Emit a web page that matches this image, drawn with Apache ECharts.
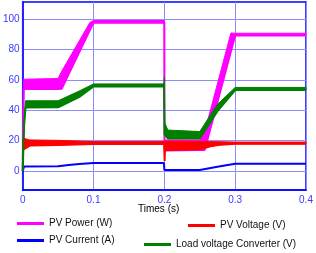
<!DOCTYPE html>
<html><head><meta charset="utf-8">
<script src="https://cdn.jsdelivr.net/npm/echarts@6/dist/echarts.min.js"></script>
<style>html,body{margin:0;padding:0;background:#fff}#c{width:316px;height:253px}</style>
</head><body><div id="c"></div>
<script>
const xTicks = [0, 0.1, 0.2, 0.3, 0.4];
const yTicks = [0, 20, 40, 60, 80, 100];

const powerT    = [0, 0.0015, 0.05, 0.055, 0.095, 0.1, 0.2, 0.2002, 0.25, 0.257, 0.294, 0.3, 0.4];
const powerLow  = [0, 54,     54,   54.2,  93,    97.8, 97.8, 13.5, 13.8, 13.8, 79,    89.4, 89.4];
const powerHigh = [0, 60.5,   61,   65.7,  98,    99.2, 99.2, 20.5, 20.5, 26,   91,    90.8, 90.8];

const voltT    = [0, 0.002, 0.01, 0.05, 0.1, 0.2, 0.2003, 0.2008, 0.25, 0.265, 0.28, 0.3, 0.4];
const voltLow  = [14, 14.5, 16.8, 17.2, 17.8, 17.8, 6.6, 13.8, 14.3, 16.3, 17.4, 17.9, 17.9];
const voltHigh = [21.5, 21.5, 20.5, 20.2, 19.4, 19.4, 19.5, 19.6, 19.5, 19.4, 19.3, 19.1, 19.1];

const currT   = [0, 0.002, 0.05, 0.065, 0.08, 0.1, 0.1995, 0.2, 0.25, 0.275, 0.3, 0.4];
const currVal = [0, 3,     3.1,  3.9,   4.6,  5.3, 5.3,    0.7, 0.7,  2.8,   4.8, 4.8];

const loadT    = [0, 0.002, 0.004, 0.05, 0.08, 0.1, 0.1995, 0.2, 0.2003, 0.205, 0.25, 0.275, 0.3, 0.4];
const loadLow  = [0, 30,    41.9,  42,   48.9, 55.7, 55.7,  56,  24,     21.5,  21.5, 39.5,  53.4, 53.4];
const loadHigh = [0, 34,    46.3,  46.3, 52.8, 57.4, 57.4,  62,  32,     27,    26,   44,    55.1, 55.1];

const names = ['PV Power (W)', 'PV Voltage (V)', 'PV Current (A)', 'Load voltage Converter (V)'];
const colors = ['#ff00ff', '#ff0000', '#0000ff', '#007f00'];

const FONT = 'Liberation Sans, Arial, sans-serif';

function band(name, color, t, lo, hi, z) {
  return [
    { name, type: 'line', z, symbol: 'none', animation: false,
      data: t.map((x, i) => [x, lo[i]]),
      lineStyle: { color, width: 2 }, itemStyle: { color } },
    { name: name + ' band', type: 'custom', z, clip: true, animation: false,
      itemStyle: { color },
      data: t.map((x, i) => [x, lo[i], hi[i]]),
      encode: { x: 0, y: [1, 2] },
      renderItem: (params, api) => {
        if (params.dataIndex !== 0) return null;
        const pts = [];
        for (let i = 0; i < t.length; i++) pts.push(api.coord([t[i], lo[i]]));
        for (let i = t.length - 1; i >= 0; i--) pts.push(api.coord([t[i], hi[i]]));
        return { type: 'polygon', shape: { points: pts },
          style: { fill: color, stroke: color, lineWidth: 1 } };
      } }
  ];
}

const series = [].concat(
  band(names[0], colors[0], powerT, powerLow, powerHigh, 2),
  band(names[1], colors[1], voltT, voltLow, voltHigh, 3),
  [{ name: names[2], type: 'line', z: 4, symbol: 'none', animation: false,
     data: currT.map((x, i) => [x, currVal[i]]),
     lineStyle: { color: colors[2], width: 2 }, itemStyle: { color: colors[2] } }],
  band(names[3], colors[3], loadT, loadLow, loadHigh, 5)
);

function leg(name, left, top) {
  return { data: [name], icon: 'rect',
    left, top, padding: 0, itemWidth: 27, itemHeight: 3,
    itemStyle: { borderWidth: 0 },
    textStyle: { fontFamily: FONT, fontSize: 10, color: '#111', lineHeight: 12 },
    selectedMode: false };
}

const chart = echarts.init(document.getElementById('c'), null, { renderer: 'canvas' });
chart.setOption({
  animation: false,
  grid: { left: 20, right: 10, top: 2, bottom: 63, show: true, borderColor: '#0000ff', borderWidth: 1.5, backgroundColor: 'transparent' },
  xAxis: {
    type: 'value', min: xTicks[0], max: xTicks[xTicks.length - 1], interval: 0.1,
    axisLine: { show: true, onZero: false, lineStyle: { color: '#0000ff', width: 1.5 } },
    axisTick: { show: false },
    axisLabel: { color: '#3a3aff', fontSize: 10, fontFamily: FONT, margin: 5,
      customValues: xTicks, formatter: v => String(+v.toFixed(1)) },
    splitLine: { show: true, lineStyle: { color: '#8c8cff', width: 1 } }
  },
  yAxis: {
    type: 'value', min: -12.5, max: 111.4,
    axisLine: { show: true, lineStyle: { color: '#0000ff', width: 1.5 } },
    axisTick: { show: false, customValues: yTicks },
    axisLabel: { color: '#3a3aff', fontSize: 10, fontFamily: FONT, margin: 3, customValues: yTicks },
    splitLine: { show: true, lineStyle: { color: '#8c8cff', width: 1 } }
  },
  legend: [
    leg(names[0], 17, 217.5),
    leg(names[1], 188, 219.5),
    leg(names[2], 17, 234.5),
    leg(names[3], 144, 238.5)
  ],
  graphic: [{ type: 'text', left: 138, top: 204,
    style: { text: 'Times (s)', fontFamily: FONT, fontSize: 10, fill: '#000' } }],
  series
});
</script></body></html>
